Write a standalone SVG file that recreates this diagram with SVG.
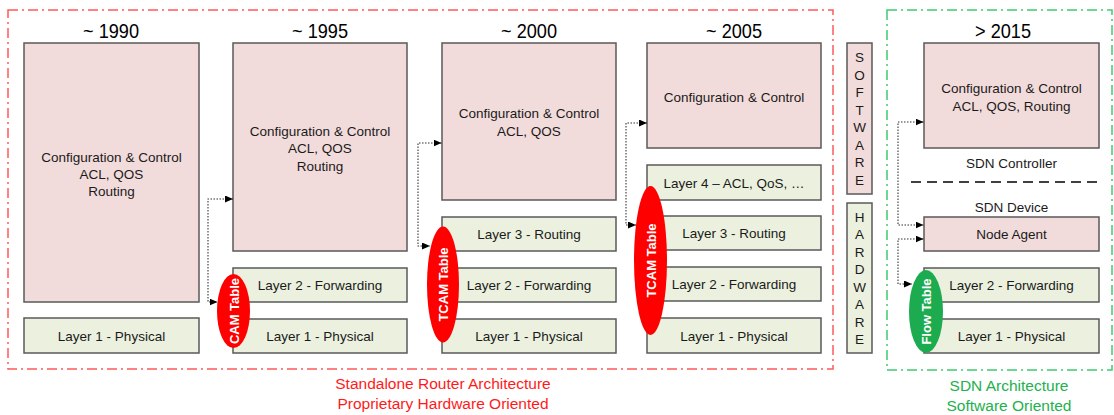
<svg xmlns="http://www.w3.org/2000/svg" width="1114" height="415" viewBox="0 0 1114 415">
<style>
.bg{fill:#ffffff}
.pink{fill:#f2dcdb;stroke:#595959;stroke-width:1.5}
.green{fill:#ebf1de;stroke:#595959;stroke-width:1.5}
.t{font-family:"Liberation Sans",Arial,sans-serif;font-size:13.5px;fill:#1a1a1a;text-anchor:middle;dominant-baseline:central}
.title{font-family:"Liberation Sans",Arial,sans-serif;font-size:21px;fill:#000;text-anchor:middle}
.et{font-family:"Liberation Sans",Arial,sans-serif;font-size:13px;font-weight:bold;fill:#fff;text-anchor:middle;dominant-baseline:central}
.redframe{fill:none;stroke:#ff5a5a;stroke-width:1.5;stroke-dasharray:10 4 2 4}
.greenframe{fill:none;stroke:#3fcb6f;stroke-width:1.5;stroke-dasharray:10 4 2 4}
.conn{fill:none;stroke:#333;stroke-width:1.1;stroke-dasharray:1.5 1.5}
.lblr{font-family:"Liberation Sans",Arial,sans-serif;font-size:15.5px;fill:#ff1a1a;text-anchor:middle}
.lblg{font-family:"Liberation Sans",Arial,sans-serif;font-size:15.5px;fill:#22b14c;text-anchor:middle}
</style>
<defs>
<marker id="arr" markerUnits="userSpaceOnUse" markerWidth="9" markerHeight="8" refX="8" refY="3.5" orient="auto-start-reverse">
<path d="M0,0 L8,3.5 L0,7 z" fill="#000"/>
</marker>
</defs>
<rect class="bg" x="0" y="0" width="1114" height="415"/>

<g id="frame-standalone">
<rect class="redframe" x="8" y="10" width="825" height="359"/>
<text class="lblr" x="443" y="389">Standalone Router Architecture</text>
<text class="lblr" x="443" y="409">Proprietary Hardware Oriented</text>
</g>
<g id="frame-sdn">
<rect class="greenframe" x="887" y="10" width="225" height="360"/>
<text class="lblg" x="1009" y="391">SDN Architecture</text>
<text class="lblg" x="1009" y="411">Software Oriented</text>
</g>

<g id="col-1990">
<text class="title" x="111" y="38" textLength="56" lengthAdjust="spacingAndGlyphs">~ 1990</text>
<rect class="pink" x="24" y="43" width="175" height="259"/>
<text class="t" x="111.5" y="157">Configuration &amp; Control</text>
<text class="t" x="111.5" y="174">ACL, QOS</text>
<text class="t" x="111.5" y="191">Routing</text>
<rect class="green" x="24" y="318" width="175" height="35"/>
<text class="t" x="111.5" y="336">Layer 1 - Physical</text>
</g>

<g id="col-1995">
<text class="title" x="320" y="38" textLength="56" lengthAdjust="spacingAndGlyphs">~ 1995</text>
<rect class="pink" x="233" y="43" width="174" height="208"/>
<text class="t" x="320" y="131">Configuration &amp; Control</text>
<text class="t" x="320" y="148">ACL, QOS</text>
<text class="t" x="320" y="166">Routing</text>
<rect class="green" x="233" y="268" width="174" height="34"/>
<text class="t" x="320" y="285">Layer 2 - Forwarding</text>
<rect class="green" x="233" y="319" width="174" height="34"/>
<text class="t" x="320" y="336">Layer 1 - Physical</text>
</g>

<g id="col-2000">
<text class="title" x="529" y="38" textLength="56" lengthAdjust="spacingAndGlyphs">~ 2000</text>
<rect class="pink" x="442" y="43" width="174" height="157"/>
<text class="t" x="529" y="113">Configuration &amp; Control</text>
<text class="t" x="529" y="131">ACL, QOS</text>
<rect class="green" x="442" y="217" width="174" height="34"/>
<text class="t" x="529" y="234">Layer 3 - Routing</text>
<rect class="green" x="442" y="268" width="174" height="34"/>
<text class="t" x="529" y="285">Layer 2 - Forwarding</text>
<rect class="green" x="442" y="319" width="174" height="34"/>
<text class="t" x="529" y="336">Layer 1 - Physical</text>
</g>

<g id="col-2005">
<text class="title" x="734" y="38" textLength="56" lengthAdjust="spacingAndGlyphs">~ 2005</text>
<rect class="pink" x="647" y="43" width="174" height="105"/>
<text class="t" x="734" y="97">Configuration &amp; Control</text>
<rect class="green" x="647" y="165" width="174" height="35"/>
<text class="t" x="734" y="183">Layer 4 – ACL, QoS, …</text>
<rect class="green" x="647" y="216" width="174" height="34"/>
<text class="t" x="734" y="233">Layer 3 - Routing</text>
<rect class="green" x="647" y="267" width="174" height="34"/>
<text class="t" x="734" y="284">Layer 2 - Forwarding</text>
<rect class="green" x="647" y="318" width="174" height="35"/>
<text class="t" x="734" y="336">Layer 1 - Physical</text>
</g>

<g id="software">
<rect class="pink" x="847" y="43" width="25" height="151"/>
<text class="t" x="859.5" y="57.5">S</text>
<text class="t" x="859.5" y="75">O</text>
<text class="t" x="859.5" y="92.5">F</text>
<text class="t" x="859.5" y="110">T</text>
<text class="t" x="859.5" y="127.5">W</text>
<text class="t" x="859.5" y="145">A</text>
<text class="t" x="859.5" y="162.5">R</text>
<text class="t" x="859.5" y="180">E</text>
</g>
<g id="hardware">
<rect class="green" x="847" y="203" width="25" height="150"/>
<text class="t" x="859.5" y="217">H</text>
<text class="t" x="859.5" y="234.5">A</text>
<text class="t" x="859.5" y="252">R</text>
<text class="t" x="859.5" y="269.5">D</text>
<text class="t" x="859.5" y="287">W</text>
<text class="t" x="859.5" y="304.5">A</text>
<text class="t" x="859.5" y="322">R</text>
<text class="t" x="859.5" y="339.5">E</text>
</g>

<g id="col-2015">
<text class="title" x="1003" y="38" textLength="56" lengthAdjust="spacingAndGlyphs">&gt; 2015</text>
<rect class="pink" x="924" y="43" width="175" height="105"/>
<text class="t" x="1011.5" y="88">Configuration &amp; Control</text>
<text class="t" x="1011.5" y="106">ACL, QOS, Routing</text>
<text class="t" x="1011.5" y="163">SDN Controller</text>
<line x1="911" y1="182" x2="1098" y2="182" stroke="#404040" stroke-width="2" stroke-dasharray="10 6"/>
<text class="t" x="1011.5" y="207">SDN Device</text>
<rect class="pink" x="924" y="217" width="175" height="34"/>
<text class="t" x="1011.5" y="234">Node Agent</text>
<rect class="green" x="924" y="268" width="175" height="34"/>
<text class="t" x="1011.5" y="285">Layer 2 - Forwarding</text>
<rect class="green" x="924" y="319" width="175" height="34"/>
<text class="t" x="1011.5" y="336">Layer 1 - Physical</text>
</g>

<g id="cam-table">
<ellipse cx="233.5" cy="311" rx="16.5" ry="37" fill="#ff0000"/>
<text class="et" transform="translate(234,311) rotate(-90)">CAM Table</text>
</g>
<g id="tcam-2000">
<ellipse cx="443" cy="284.5" rx="16" ry="58" fill="#ff0000"/>
<text class="et" transform="translate(443,284.5) rotate(-90)">TCAM Table</text>
</g>
<g id="tcam-2005">
<ellipse cx="650.5" cy="260.5" rx="16.5" ry="74.5" fill="#ff0000"/>
<text class="et" transform="translate(651,260.5) rotate(-90)">TCAM Table</text>
</g>
<g id="flow-table">
<ellipse cx="926" cy="311.5" rx="17" ry="41.5" fill="#1dab4f"/>
<text class="et" transform="translate(926.5,311.5) rotate(-90)">Flow Table</text>
</g>

<g id="connectors">
<path class="conn" d="M233,199 H208 V302 H217.5" marker-start="url(#arr)" marker-end="url(#arr)"/>
<path class="conn" d="M441.5,143 H418 V246 H430" marker-start="url(#arr)" marker-end="url(#arr)"/>
<path class="conn" d="M647,123 H626 V225 H636" marker-start="url(#arr)" marker-end="url(#arr)"/>
<path class="conn" d="M923.5,122 H898 V225 H923.5" marker-start="url(#arr)" marker-end="url(#arr)"/>
<path class="conn" d="M923.5,239 H898 V284 H912" marker-start="url(#arr)" marker-end="url(#arr)"/>
</g>
</svg>
